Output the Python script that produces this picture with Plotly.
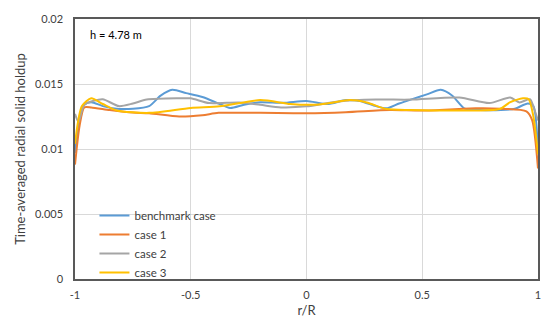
import plotly.graph_objects as go

bench_x = [-1, -0.98, -0.96, -0.93, -0.88, -0.82, -0.75, -0.68, -0.63, -0.58, -0.52, -0.45, -0.38, -0.33, -0.27, -0.2, -0.1, 0, 0.09, 0.17, 0.23, 0.3, 0.345, 0.4, 0.45, 0.52, 0.58, 0.63, 0.684, 0.75, 0.84, 0.9, 0.956, 0.98, 1]
bench_y = [0.0097, 0.0125, 0.0134, 0.0136, 0.0133, 0.0131, 0.0131, 0.0133, 0.0141, 0.01455, 0.0143, 0.0140, 0.0135, 0.01315, 0.0134, 0.0136, 0.01355, 0.0137, 0.01346, 0.01376, 0.0137, 0.0133, 0.01313, 0.0135, 0.0138, 0.0142, 0.01455, 0.0141, 0.0131, 0.0130, 0.0130, 0.0131, 0.0135, 0.0133, 0.0097]

case1_x = [-1, -0.98, -0.96, -0.93, -0.85, -0.75, -0.68, -0.55, -0.45, -0.38, -0.2, 0, 0.17, 0.36, 0.5, 0.73, 0.84, 0.95, 0.975, 1]
case1_y = [0.0088, 0.0118, 0.0132, 0.0132, 0.0130, 0.0128, 0.01275, 0.0125, 0.0126, 0.01278, 0.01278, 0.01275, 0.01283, 0.0130, 0.01296, 0.01313, 0.0131, 0.0129, 0.0122, 0.0085]

case2_x = [-1, -0.985, -0.96, -0.92, -0.88, -0.81, -0.75, -0.69, -0.55, -0.5, -0.42, -0.29, -0.2, -0.11, 0, 0.14, 0.3, 0.45, 0.66, 0.79, 0.88, 0.92, 0.965, 0.985, 1]
case2_y = [0.0127, 0.0121, 0.0134, 0.0137, 0.01383, 0.0133, 0.0135, 0.0138, 0.0139, 0.0139, 0.01353, 0.01358, 0.0134, 0.0132, 0.01328, 0.01366, 0.0138, 0.0138, 0.01396, 0.01353, 0.01396, 0.01358, 0.01383, 0.0130, 0.0122]

case3_x = [-1, -0.97, -0.93, -0.88, -0.82, -0.68, -0.5, -0.375, -0.2, -0.07, 0.03, 0.09, 0.187, 0.26, 0.345, 0.45, 0.66, 0.835, 0.878, 0.935, 0.96, 0.98, 1]
case3_y = [0.0104, 0.0133, 0.0139, 0.01346, 0.01296, 0.01278, 0.01316, 0.01328, 0.01376, 0.01346, 0.0134, 0.0135, 0.01376, 0.01358, 0.01308, 0.0130, 0.01296, 0.01308, 0.01358, 0.0139, 0.01383, 0.0125, 0.0096]

series = [
    ("benchmark case", bench_x, bench_y, "#5B9BD5"),
    ("case 1", case1_x, case1_y, "#ED7D31"),
    ("case 2", case2_x, case2_y, "#A5A5A5"),
    ("case 3", case3_x, case3_y, "#FFC000"),
]

y_ticks = [0, 0.005, 0.01, 0.015, 0.02]
y_tick_labels = ["0", "0.005", "0.01", "0.015", "0.02"]
x_ticks = [-1, -0.5, 0, 0.5, 1]
x_tick_labels = ["-1", "-0.5", "0", "0.5", "1"]

fig = go.Figure()
for name, xs, ys, col in series:
    fig.add_trace(go.Scatter(x=xs, y=ys, name=name, mode="lines",
                             line=dict(color=col, width=2, shape="spline", smoothing=0.7)))

font = "Lato, 'Open Sans', sans-serif"
fig.update_layout(
    width=553, height=329,
    margin=dict(l=75, r=15, t=13, b=50),
    paper_bgcolor="white", plot_bgcolor="white",
    font=dict(family=font, size=11, color="#404040"),
    showlegend=True,
    legend=dict(x=0.042, y=0.30, xanchor="left", yanchor="top",
                bgcolor="rgba(0,0,0,0)", font=dict(size=11.5, color="#404040"),
                tracegroupgap=0, itemwidth=30),
    annotations=[dict(text="h = 4.78 m", x=0.028, y=0.94, xref="paper", yref="paper",
                      xanchor="left", yanchor="middle", showarrow=False,
                      font=dict(size=11, color="#000000"))],
)
fig.update_xaxes(range=[-1, 1], tickvals=x_ticks, ticktext=x_tick_labels,
                 showgrid=True, gridcolor="#D9D9D9", gridwidth=1,
                 showline=True, linecolor="#595959", linewidth=1.5, mirror=True,
                 zeroline=False, ticks="outside", ticklen=5, tickcolor="rgba(0,0,0,0)",
                 title=dict(text="r/R", standoff=6),
                 tickfont=dict(size=11, color="#404040"))
fig.update_yaxes(range=[0, 0.02], tickvals=y_ticks, ticktext=y_tick_labels,
                 showgrid=True, gridcolor="#D9D9D9", gridwidth=1,
                 showline=True, linecolor="#595959", linewidth=1.5, mirror=True,
                 zeroline=False, ticks="outside", ticklen=8, tickcolor="rgba(0,0,0,0)",
                 title=dict(text="Time-averaged radial solid holdup", standoff=6),
                 tickfont=dict(size=11, color="#404040"))

fig.write_html("out.html")
